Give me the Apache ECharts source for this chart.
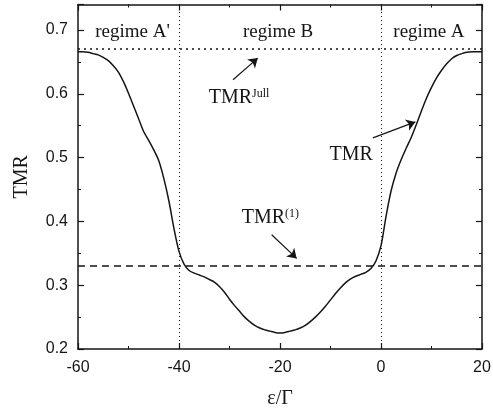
<!DOCTYPE html>
<html><head><meta charset="utf-8">
<script src="https://cdn.jsdelivr.net/npm/echarts@6/dist/echarts.min.js"></script>
<style>html,body{margin:0;padding:0;background:#fff}#c{width:493px;height:412px}</style>
</head><body><div id="c"></div>
<script>
// ---- data ----
const epsilon = [-60,-59,-58,-57,-56,-55,-54,-53,-52,-51,-50,-49,-48,-47,-46,-45,-44,-43,-42,-41,
  -40,-39,-38,-37,-36,-35,-34,-33,-32,-31,-30,-29,-28,-27,-26,-25,-24,-23,-22,-21,
  -20,-19,-18,-17,-16,-15,-14,-13,-12,-11,-10,-9,-8,-7,-6,-5,-4,-3,-2,-1,
  0,1,2,3,4,5,6,7,8,9,10,11,12,13,14,15,16,17,18,19,20];
const tmr = [0.666,0.666,0.665,0.663,0.661,0.657,0.652,0.644,0.634,0.619,0.601,0.581,0.561,0.541,0.527,0.512,0.495,0.467,0.432,0.389,
  0.353,0.333,0.323,0.319,0.316,0.313,0.309,0.305,0.298,0.289,0.278,0.268,0.259,0.250,0.243,0.237,0.233,0.230,0.228,0.226,
  0.225,0.226,0.228,0.230,0.233,0.237,0.243,0.250,0.258,0.267,0.277,0.287,0.296,0.304,0.310,0.314,0.317,0.320,0.326,0.338,
  0.362,0.408,0.448,0.476,0.497,0.515,0.532,0.552,0.573,0.593,0.610,0.625,0.637,0.647,0.655,0.660,0.663,0.665,0.666,0.666,0.666];
const tmrJull = 0.667;
const tmrFirst = 0.333;
const regimeBounds = [-40, 0];
const regimeNames = ["regime A'", "regime B", "regime A"];
const xRange = [-60, 20];
const yRange = [0.2, 0.74];

// ---- styling ----
const ink = '#151515';
const serif = '"Liberation Serif","Times New Roman",serif';
const sans = '"Liberation Sans",Arial,sans-serif';
const axLine = {show:true, onZero:false, lineStyle:{color:ink, width:1.5}};
const noSplit = {show:false};

function xAx(pos, labels){
  return {type:'value', min:xRange[0], max:xRange[1], interval:20, position:pos,
    axisLine:axLine, splitLine:noSplit,
    axisTick:{show:true, inside:true, length:6, lineStyle:{color:ink, width:1.2}},
    minorTick:{show:true, splitNumber:2, length:3, lineStyle:{color:ink, width:1}},
    axisLabel:labels ? {show:true, fontFamily:sans, fontSize:16, color:ink, margin:11} : {show:false}};
}
function yAx(pos, major, labels){
  return {type:'value', min:yRange[0], max:yRange[1], interval: major ? 0.1 : 0.05, position:pos,
    axisLine: major ? axLine : {show:false, onZero:false}, splitLine:noSplit,
    axisTick:{show:true, inside:true, length: major ? 6 : 3, lineStyle:{color:ink, width: major ? 1.2 : 1}},
    axisLabel: labels ? {show:true, fontFamily:sans, fontSize:16, color:ink, margin:10,
      formatter: v => v > 0.71 ? '' : v.toFixed(1)} : {show:false}};
}

const xBottom = xAx('bottom', true);
xBottom.name = 'ε/Γ'; xBottom.nameLocation = 'middle'; xBottom.nameGap = 40;
xBottom.nameTextStyle = {fontFamily:serif, fontSize:20, color:ink};
const yLeft = yAx('left', true, true);
yLeft.name = 'TMR'; yLeft.nameLocation = 'middle'; yLeft.nameGap = 46; yLeft.nameRotate = 90;
yLeft.nameTextStyle = {fontFamily:serif, fontSize:20, color:ink};

const txt = (x, y, formatter, size) => ({coord:[x, y], value:0,
  label:{show:true, position:'inside', formatter, color:ink, fontFamily:serif, fontSize:size,
    rich:{a:{fontFamily:serif, fontSize:20, color:ink}, s:{fontFamily:serif, fontSize:12, color:ink, verticalAlign:'top'}}}});

const option = {
  animation:false,
  grid:{left:78, right:11, top:4.5, bottom:63, outerBoundsMode:'none', containLabel:false},
  xAxis:[xBottom, xAx('top', false)],
  yAxis:[yLeft, yAx('left', false, false), yAx('right', true, false), yAx('right', false, false)],
  series:[
    {type:'line', xAxisIndex:0, yAxisIndex:0, data: epsilon.map((x,i)=>[x, tmr[i]]),
      symbol:'none', smooth:0.3, lineStyle:{color:ink, width:1.5}, z:5,
      markLine:{silent:true, symbol:'none', label:{show:false}, animation:false, data:[
        {yAxis:tmrJull, lineStyle:{type:[2,4], color:ink, width:1.5}},
        {yAxis:tmrFirst, lineStyle:{type:[7,5], color:ink, width:1.5}},
        {xAxis:regimeBounds[0], lineStyle:{type:[1,3], color:ink, width:1}},
        {xAxis:regimeBounds[1], lineStyle:{type:[1,3], color:ink, width:1}}
      ]}
    },
    {type:'line', xAxisIndex:0, yAxisIndex:0, data:[], 
      markLine:{silent:true, symbol:['none','arrow'], symbolSize:9, label:{show:false}, animation:false,
        lineStyle:{type:'solid', color:ink, width:1.2},
        data:[
          [{coord:[-29.3, 0.622]}, {coord:[-24.4, 0.656]}],
          [{coord:[-1.6, 0.531]}, {coord:[6.8, 0.556]}],
          [{coord:[-21.65, 0.379]}, {coord:[-16.7, 0.342]}]
        ]},
      markPoint:{silent:true, symbol:'circle', symbolSize:1, itemStyle:{color:'rgba(0,0,0,0)'}, animation:false,
        data:[
          txt(-49.2, 0.697, regimeNames[0], 19),
          txt(-20.4, 0.697, regimeNames[1], 19),
          txt(9.5, 0.697, regimeNames[2], 19),
          txt(-28.1, 0.594, '{a|TMR}{s|Jull}', 20),
          txt(-5.9, 0.504, '{a|TMR}', 20),
          txt(-21.9, 0.406, '{a|TMR}{s|(1)}', 20)
        ]}
    }
  ]
};
const chart = echarts.init(document.getElementById('c'), null, {renderer:'canvas'});
chart.setOption(option);
</script></body></html>
